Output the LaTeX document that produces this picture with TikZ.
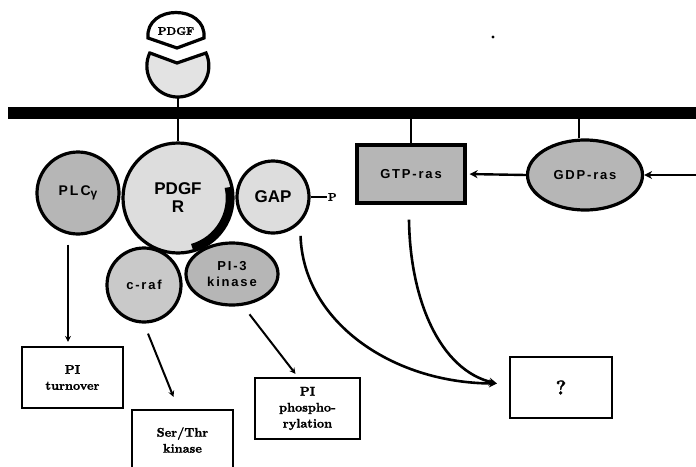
\documentclass[tikz,border=0pt]{standalone}
\usepackage{fontspec}
\usetikzlibrary{shapes.geometric,arrows.meta,calc}
\newfontfamily\labsans{Liberation Sans}
\newfontfamily\labspaced{Liberation Sans}[LetterSpace=14]
\newfontfamily\heavyserif{lmroman10-bold.otf}[FakeBold=1.6]
\begin{document}
\begin{tikzpicture}[x=1pt,y=-1pt,
  outline/.style={draw=black, line width=3.2pt},
  lightfill/.style={outline, fill=gray!27},
  midfill/.style={outline, fill=gray!42},
  darkfill/.style={outline, fill=gray!57},
  prot/.style={circle, inner sep=0pt},
  resbox/.style={rectangle, draw=black, line width=2.2pt, align=center,
    font=\heavyserif\fontsize{12.5}{16}\selectfont},
  boxtext/.style={align=center, font=\heavyserif\fontsize{12.5}{16}\selectfont},
  stem/.style={line width=2.6pt},
  arr/.style={line width=2pt, -{Stealth[length=6pt,width=6pt]}},
  harr/.style={line width=2.4pt, -{Stealth[length=8pt,width=8pt]}},
  curve/.style={line width=2.6pt, -{Stealth[length=8pt,width=8pt]}},
  spacedlab/.style={font=\labspaced\bfseries\fontsize{13}{16}\selectfont, align=center},
  boldlab/.style={font=\labsans\bfseries\fontsize{17}{18}\selectfont, align=center}
]
\useasboundingbox (0,0) rectangle (696,466);
\clip (0,0) rectangle (696,466);

% plasma membrane
\fill (8,107) rectangle (700,119);
\coordinate (mem) at (0,113);

% speck above the membrane
\fill (493,37) circle[radius=1.6];

% PDGF ligand (top cap with a V-shaped base)
\draw[outline, fill=white] (148,38) .. controls (145,4) and (207,4) .. (204,38) -- (177,48) -- cycle;
\node[font=\heavyserif\fontsize{11}{11}\selectfont] (pdgf) at (176,31) {PDGF};

% receptor extracellular domain with V-shaped binding cleft
\draw[outline, fill=gray!22] (150,53) -- (177,63) -- (206,53)
  arc[start angle=-24.8, end angle=204.8, radius=31] -- cycle;
\coordinate (ecd) at (178,97);

% signalling proteins
\node[prot, lightfill, minimum size=110pt, boldlab] (pdgfr) at (178,198) {PDGF\\R};
\draw[line width=6.5pt] (pdgfr.center) ++(-12:51) arc[start angle=-12, end angle=74, radius=51];

\node[prot, darkfill, minimum size=82pt, spacedlab, font=\labspaced\bfseries\fontsize{14}{16}\selectfont] (plc) at (78,193)
  {PLC\raisebox{-2pt}{\fontsize{12}{12}\selectfont γ}};
\node[prot, lightfill, minimum size=72pt, boldlab] (gap) at (273,197) {GAP};
\node[prot, midfill, minimum size=74pt, spacedlab] (craf) at (144,285) {c-raf};
\node[ellipse, darkfill, minimum width=92pt, minimum height=62pt, inner sep=0pt, spacedlab] (pi3) at (232,274) {PI-3\\kinase};

\node[rectangle, darkfill, minimum width=108pt, minimum height=58pt, spacedlab] (gtp) at (411,174) {GTP-ras};
\node[ellipse, darkfill, minimum width=115pt, minimum height=70pt, inner sep=0pt, spacedlab] (gdp) at (585,175) {GDP-ras};

% phosphate on GAP
\draw[line width=1.8pt] (gap.east) -- ++(16,0) node[right, inner sep=0.5pt, font=\heavyserif\fontsize{11}{11}\selectfont] (pgap) {P};

% membrane anchors
\draw[stem] (ecd) -- (pdgfr.north);
\draw[stem] (gtp.north) -- (gtp.north |- mem);
\draw[stem] ([xshift=-6pt]gdp.north) -- ([xshift=-6pt]gdp.north |- mem);

% ras cycle
\coordinate (rin) at (696,175);
\draw[harr] (rin) -- (gdp.east);
\draw[harr, shorten >=3pt] (gdp.west) -- (gtp.east);

% downstream outputs
\node[resbox, minimum width=101pt, minimum height=61pt] (pit) at (72.5,377.5) {PI\\turnover};
\node[resbox, minimum width=105pt, minimum height=61pt] (piph) at (307.5,408.5) {PI\\phospho-\\rylation};
\node[resbox, minimum width=101pt, minimum height=72pt] (serthr) at (182.5,446) {};
\node[boxtext] (serthrtext) at (182.5,440) {Ser/Thr\\kinase};
\node[resbox, minimum width=102pt, minimum height=61pt, font=\heavyserif\fontsize{20}{20}\selectfont] (q) at (561,387.5) {?};

\draw[arr] ([xshift=-4.5pt,yshift=-9pt]pit.north |- plc.south) -- ([xshift=-4.5pt,yshift=4pt]pit.north);
\draw[arr] ([shift={(4pt,-10pt)}]craf.south) -- ([shift={(-9pt,12pt)}]serthr.north);
\draw[arr] ([yshift=-10pt]pi3.-60) -- ([shift={(-12pt,3pt)}]piph.north);

% GAP and GTP-ras converge on an unknown effector
\coordinate (qin) at ([shift={(-12pt,4pt)}]q.west);
\draw[curve] ([shift={(6pt,-8pt)}]gap.-55) .. controls (303,320) and (390,383) .. (qin);
\draw[curve] ([shift={(-2pt,-15pt)}]gtp.south) .. controls (410,300) and (440,370) .. (qin);
\end{tikzpicture}
\end{document}
